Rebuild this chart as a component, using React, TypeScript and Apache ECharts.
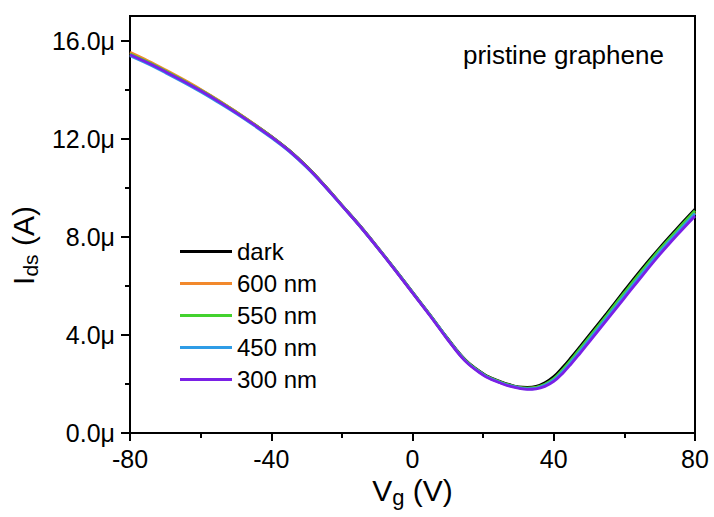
import React, { useEffect, useRef } from 'react';
import * as echarts from 'echarts';

const FONT = "'Liberation Sans', Arial, Helvetica, sans-serif";

// Gate voltage (V)
const vg = [-80, -75, -70, -65, -60, -55, -50, -45, -40, -35, -30, -25, -20, -15, -10, -5, 0, 5, 10, 15, 20,
  22.5, 25, 27.5, 30, 32.5, 35, 37.5, 40, 42.5, 45, 47.5, 50,
  55, 60, 65, 70, 75, 80];

// Ids in microamps
const dark = [15.45, 15.12, 14.76, 14.38, 13.98, 13.55, 13.09, 12.6, 12.09, 11.53, 10.87, 10.11, 9.29, 8.47, 7.59, 6.68, 5.74, 4.81, 3.85, 2.98, 2.42,
  2.23, 2.09, 1.97, 1.88, 1.86, 1.9, 2.05, 2.3, 2.67, 3.09, 3.53, 3.98,
  4.88, 5.8, 6.7, 7.55, 8.35, 9.12];
const nm600 = [15.52, 15.18, 14.81, 14.42, 14.01, 13.57, 13.1, 12.61, 12.09, 11.52, 10.86, 10.1, 9.28, 8.46, 7.58, 6.66, 5.72, 4.79, 3.82, 2.95, 2.39,
  2.2, 2.06, 1.94, 1.85, 1.82, 1.85, 1.97, 2.19, 2.54, 2.96, 3.4, 3.85,
  4.75, 5.66, 6.56, 7.43, 8.23, 9.0];
const nm550 = [15.45, 15.12, 14.76, 14.37, 13.97, 13.54, 13.08, 12.59, 12.08, 11.52, 10.86, 10.1, 9.28, 8.46, 7.58, 6.67, 5.73, 4.8, 3.83, 2.96, 2.4,
  2.21, 2.07, 1.95, 1.86, 1.83, 1.86, 1.99, 2.22, 2.58, 3.0, 3.45, 3.9,
  4.8, 5.72, 6.62, 7.48, 8.28, 9.06];
const nm450 = [15.38, 15.05, 14.69, 14.31, 13.91, 13.48, 13.03, 12.55, 12.04, 11.49, 10.83, 10.08, 9.27, 8.45, 7.57, 6.66, 5.72, 4.79, 3.82, 2.94, 2.38,
  2.19, 2.05, 1.93, 1.85, 1.8, 1.82, 1.95, 2.16, 2.5, 2.91, 3.35, 3.8,
  4.69, 5.6, 6.5, 7.37, 8.17, 8.95];
const nm300 = [15.42, 15.09, 14.73, 14.35, 13.95, 13.52, 13.06, 12.58, 12.07, 11.51, 10.85, 10.09, 9.27, 8.45, 7.57, 6.65, 5.71, 4.77, 3.8, 2.92, 2.36,
  2.17, 2.03, 1.91, 1.83, 1.78, 1.8, 1.9, 2.1, 2.43, 2.83, 3.26, 3.7,
  4.6, 5.5, 6.4, 7.27, 8.08, 8.85];

const seriesNames = ['dark', '600 nm', '550 nm', '450 nm', '300 nm'];
const seriesData = [dark, nm600, nm550, nm450, nm300];
const seriesColors = ['#000000', '#f2892c', '#43d22e', '#2f9ce6', '#7a20e6'];

const yMajorTicks = [0, 4, 8, 12, 16];
const yMinorTicks = [2, 6, 10, 14];
const annotation = 'pristine graphene';

function nameRich(sub: number) {
  return {
    m: { fontSize: 30, lineHeight: 36, verticalAlign: 'middle', fontFamily: FONT, color: '#000' },
    s: { fontSize: sub, lineHeight: 2, verticalAlign: 'bottom', fontFamily: FONT, color: '#000' },
  };
}

export default function App() {
  const ref = useRef<HTMLDivElement>(null);
  useEffect(() => {
    if (!ref.current) return;
    const chart = echarts.init(ref.current, null, { renderer: 'svg' });
    const axisLineStyle = { color: '#000', width: 2 };
    const option: any = {
      animation: false,
      backgroundColor: '#ffffff',
      textStyle: { fontFamily: FONT },
      grid: {
        left: 130, right: 19, top: 16, bottom: 84,
        show: true, borderColor: '#000', borderWidth: 2, backgroundColor: 'transparent',
        containLabel: false, outerBoundsMode: 'none',
      },
      xAxis: {
        type: 'value', min: -80, max: 80, interval: 40,
        axisLine: { show: true, onZero: false, lineStyle: axisLineStyle },
        axisTick: { show: true, inside: false, length: 8, lineStyle: axisLineStyle },
        minorTick: { show: true, splitNumber: 2, length: 5, lineStyle: axisLineStyle },
        splitLine: { show: false },
        minorSplitLine: { show: false },
        axisLabel: { fontSize: 25, color: '#000', margin: 13, fontFamily: FONT },
        name: '{m|V}{s|g}{m| (V)}',
        nameLocation: 'middle',
        nameGap: 35,
        nameTextStyle: { rich: nameRich(22) },
      },
      yAxis: [
        {
          type: 'value', min: 0, max: 17, interval: 4, position: 'left',
          axisLine: { show: true, onZero: false, lineStyle: axisLineStyle },
          axisTick: { show: true, inside: false, length: 9, lineStyle: axisLineStyle, customValues: yMajorTicks },
          splitLine: { show: false },
          axisLabel: {
            fontSize: 25, color: '#000', margin: 15, fontFamily: FONT,
            customValues: yMajorTicks,
            formatter: (v: number) => v.toFixed(1) + 'μ',
          },
          name: '{m|I}{s|ds}{m| (A)}',
          nameLocation: 'middle',
          nameRotate: 90,
          nameGap: 86,
          nameTextStyle: { rich: nameRich(21), padding: [0, 42, 0, 0] },
        },
        {
          type: 'value', min: 0, max: 17, interval: 4, position: 'left',
          axisLine: { show: false, onZero: false },
          axisTick: { show: true, inside: false, length: 5, lineStyle: axisLineStyle, customValues: yMinorTicks },
          axisLabel: { show: false },
          splitLine: { show: false },
        },
      ],
      legend: {
        orient: 'vertical', left: 180, top: 239.5, padding: 0, itemGap: 8,
        itemWidth: 52, itemHeight: 3, icon: 'rect', selectedMode: false,
        textStyle: { fontSize: 24, color: '#000', fontFamily: FONT, lineHeight: 24 },
        data: seriesNames,
      },
      graphic: [
        {
          type: 'text', x: 463, y: 55, z: 100,
          style: { text: annotation, fontSize: 26, fontFamily: FONT, fill: '#000', align: 'left', verticalAlign: 'middle' },
        },
      ],
      series: seriesNames.map((name, k) => ({
        name,
        type: 'line',
        xAxisIndex: 0,
        yAxisIndex: 0,
        data: vg.map((x, i) => [x, seriesData[k][i]]),
        smooth: 0.4,
        symbol: 'none',
        showSymbol: false,
        color: seriesColors[k],
        lineStyle: { color: seriesColors[k], width: 2.8 },
        z: 2 + k,
      })),
    };
    chart.setOption(option);
    return () => chart.dispose();
  }, []);
  return (
    <div
      ref={ref}
      style={{ position: 'fixed', left: 0, top: 0, width: 714, height: 517, background: '#fff' }}
    />
  );
}
